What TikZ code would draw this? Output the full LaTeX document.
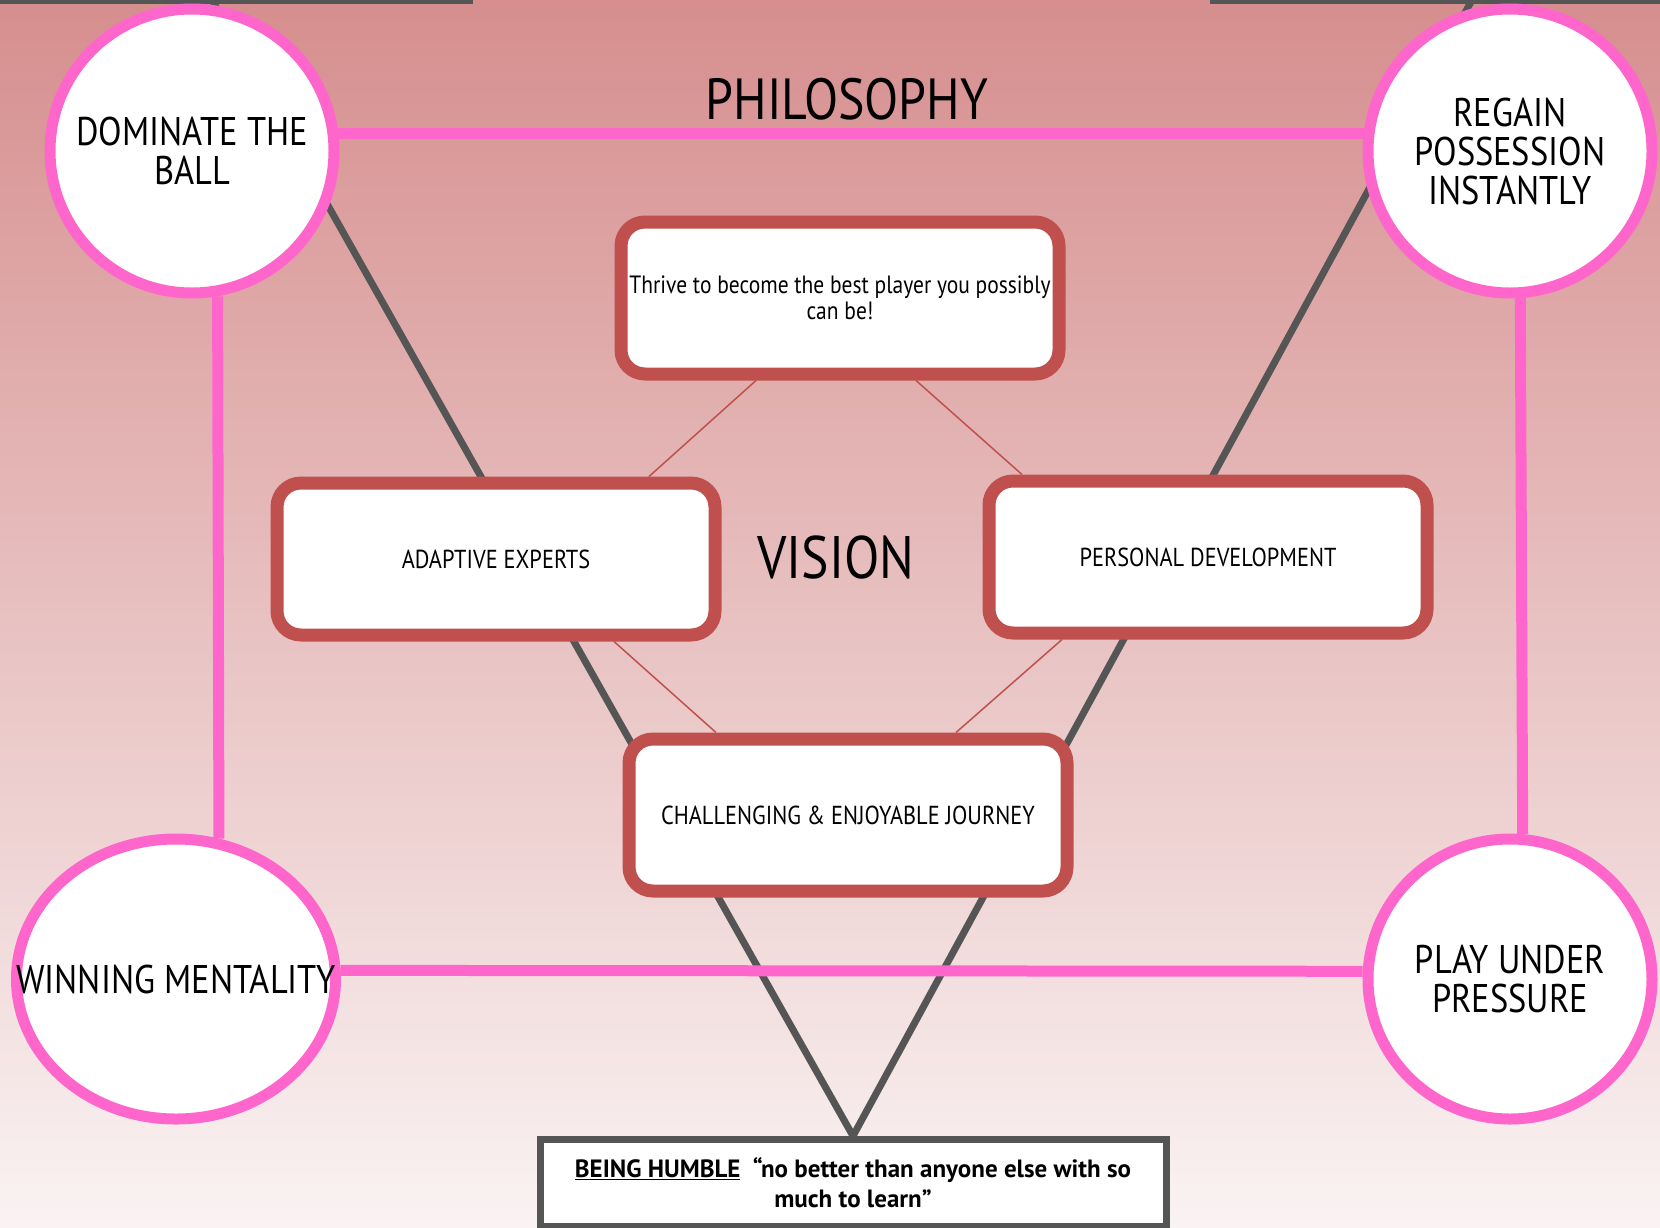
\documentclass[tikz,border=0pt]{standalone}
\usepackage{fontspec}
\setmainfont{PT Sans}[FakeStretch=0.86]
\newfontfamily\humblefont{PT Sans}
\usetikzlibrary{shapes.geometric}
\definecolor{bgtop}{RGB}{214,142,142}
\definecolor{bgbot}{RGB}{250,243,243}
\definecolor{ringpink}{RGB}{255,102,204}
\definecolor{boxred}{RGB}{192,80,77}
\definecolor{vgray}{RGB}{85,85,85}
\pgfdeclarelayer{bg}
\pgfdeclarelayer{back}
\pgfsetlayers{bg,back,main}

\begin{document}
\begin{tikzpicture}[x=1pt,y=-1pt,
  goal/.style={circle,draw=ringpink,line width=11pt,fill=white,align=center,inner sep=0pt,
    minimum size=284pt,font=\fontsize{40}{39}\selectfont},
  vbox/.style={rectangle,draw=boxred,line width=13pt,fill=white,rounded corners=24pt,
    minimum width=438pt,minimum height=152pt,align=center,inner sep=0pt,
    font=\fontsize{26}{27}\selectfont},
  pinkline/.style={ringpink,line width=11pt},
  greyline/.style={vgray,line width=7pt},
  thinline/.style={boxred,line width=1.5pt},
  title/.style={inner sep=0pt,font=\fontsize{58}{60}\selectfont}]

\useasboundingbox (0,0) rectangle (1660,1227);
\clip (0,0) rectangle (1660,1227);
\begin{pgfonlayer}{bg}
\fill[top color=bgtop,bottom color=bgbot] (0,0) rectangle (1660,1227);
\end{pgfonlayer}

% corner values
\node[goal] (dom) at (192,151) {DOMINATE THE\\BALL};
\node[goal] (regain) at (1510,151) {REGAIN\\POSSESSION\\INSTANTLY};
\node[goal,ellipse,minimum width=319pt,minimum height=280pt] (win) at (176,979)
  {\makebox[180pt]{WINNING MENTALITY}};
\node[goal,ellipse,minimum width=284pt,minimum height=280pt] (press) at (1510,979)
  {PLAY UNDER\\PRESSURE};

% vision boxes
\node[vbox,font=\fontsize{25}{26}\selectfont] (thrive) at (840,298)
  {Thrive to become the best player you possibly\\can be!};
\node[vbox] (adapt) at (496,559) {ADAPTIVE EXPERTS};
\node[vbox] (personal) at (1208,557) {PERSONAL DEVELOPMENT};
\node[vbox] (journey) at (848,815) {CHALLENGING \& ENJOYABLE JOURNEY};

\node[title] (philo) at (847,99) {PHILOSOPHY};
\node[title,font=\fontsize{60}{62}\selectfont] (vision) at (836,557) {VISION};

\node[draw=vgray,line width=7pt,fill=white,minimum width=626pt,minimum height=87pt,
  anchor=north,align=center,inner sep=0pt,font=\humblefont\bfseries\fontsize{25}{30}\selectfont]
  (humble) at (853,1136)
  {\underline{BEING HUMBLE}\enspace “no better than anyone else with so\\much to learn”};

\begin{pgfonlayer}{back}
\coordinate (vleft) at (212,0);
\coordinate (vright) at (1472,0);
\coordinate (edgeA) at (0,0);
\coordinate (edgeB) at (473,0);
\coordinate (edgeC) at (1210,0);
\coordinate (edgeD) at (1660,0);
\draw[greyline] (vleft) -- (humble.north) -- (vright);
\draw[greyline] (edgeA) -- (edgeB);
\draw[greyline] (edgeC) -- (edgeD);
% pink frame
\draw[pinkline] (dom.7) -- (regain.173);
\draw[pinkline] (dom.-80) -- (win.73);
\draw[pinkline] (regain.-86) -- (press.85);
\draw[pinkline] (win.3) -- (press.177);
% diamond
\draw[thinline] ([xshift=-84pt]thrive.south) -- ([xshift=153pt]adapt.north);
\draw[thinline] ([xshift=76pt]thrive.south) -- ([xshift=-186pt]personal.north);
\draw[thinline] ([xshift=118pt]adapt.south) -- ([xshift=-132pt]journey.north);
\draw[thinline] ([xshift=-146pt]personal.south) -- ([xshift=108pt]journey.north);
\end{pgfonlayer}
\end{tikzpicture}
\end{document}
